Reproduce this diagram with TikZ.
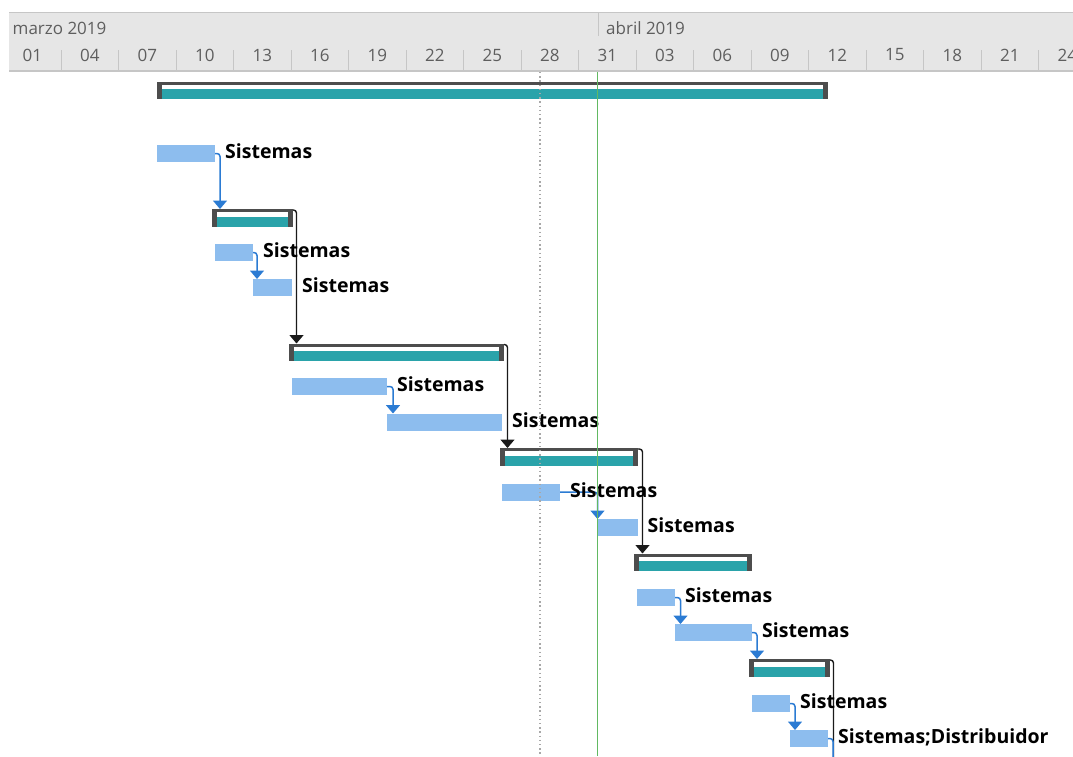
\documentclass[tikz,border=0pt]{standalone}
\usepackage{fontspec}
\setmainfont{Open Sans}
\usetikzlibrary{arrows.meta,calc}

\definecolor{hdrbg}{HTML}{E6E6E6}
\definecolor{hdrline}{HTML}{C6C6C6}
\definecolor{hdrtext}{HTML}{5E5E5E}
\definecolor{tealbar}{HTML}{2AA3AA}
\definecolor{sumgray}{HTML}{4D4D4D}
\definecolor{taskblue}{HTML}{8DBDEE}
\definecolor{linkblue}{HTML}{2B7BD3}
\definecolor{linkblack}{HTML}{1A1A1A}
\definecolor{todaygreen}{HTML}{62B962}
\definecolor{dotgray}{HTML}{A8A8A8}

\tikzset{
  hdrlabel/.style={inner sep=0, text=hdrtext, font=\fontsize{17}{20}\selectfont},
  tickline/.style={hdrline, line width=1pt},
  task/.style={rectangle, inner sep=0, outer sep=0, anchor=north west,
    minimum height=17pt, fill=taskblue},
  sumbar/.style={rectangle, inner sep=0, outer sep=0, anchor=north west,
    minimum height=17.5pt, fill=white,
    path picture={
      \fill[tealbar] (path picture bounding box.south west)
        rectangle ([yshift=10pt]path picture bounding box.south east);
      \fill[sumgray] ([yshift=-3pt]path picture bounding box.north west)
        rectangle (path picture bounding box.north east);
      \fill[sumgray] (path picture bounding box.south west)
        rectangle ([xshift=5pt]path picture bounding box.north west);
      \fill[sumgray] ([xshift=-5pt]path picture bounding box.south east)
        rectangle (path picture bounding box.north east);
    }},
  tasklabel/.style={inner sep=0, anchor=base west,
    font=\fontsize{19.5}{23}\selectfont\bfseries},
  blink/.style={linkblue, line width=1.5pt, rounded corners=3pt,
    -{Triangle[width=14pt,length=8.5pt]}},
  klink/.style={linkblack, line width=1.4pt, rounded corners=3pt,
    -{Triangle[width=14pt,length=8.5pt]}},
  plainblue/.style={linkblue, line width=1.5pt, rounded corners=3pt},
  plainblack/.style={linkblack, line width=1.4pt, rounded corners=3pt},
}

\begin{document}
\begin{tikzpicture}[x=1pt,y=-1pt]
\useasboundingbox (0,0) rectangle (1073,756);
\fill[white] (0,0) rectangle (1073,756);

% timescale header
\fill[hdrbg] (9,12) rectangle (1073,71);
\draw[hdrline, line width=1.3pt] (9,12.5) -- (1073,12.5);
\draw[hdrline, line width=1.3pt] (9,71) -- (1073,71);
\draw[tickline] (598,13) -- (598,36);
\foreach \k in {0,...,17}
  \draw[tickline] (61+57.5*\k,50) -- (61+57.5*\k,71);
\node[hdrlabel, anchor=west] (marzo) at (12.5,28) {marzo 2019};
\node[hdrlabel, anchor=west] (abril) at (606,28) {abril 2019};
\foreach \d [count=\i from 0] in {01,04,07,10,13,16,19,22,25,28,31,03,06,09,12,15,18,21,24}
  \node[hdrlabel] (day\i) at (32.25+57.5*\i,55) {\d};

% summary bars
\node[sumbar, minimum width=671pt] (s0) at (157,81.5) {};
\node[sumbar, minimum width=81pt]  (s1) at (212,209) {};
\node[sumbar, minimum width=215pt] (s2) at (289,343.5) {};
\node[sumbar, minimum width=138pt] (s3) at (500,448) {};
\node[sumbar, minimum width=118pt] (s4) at (634,553.5) {};
\node[sumbar, minimum width=81pt]  (s5) at (749,659) {};

% task bars
\node[task, minimum width=58pt]  (t1)  at (157,145) {};
\node[task, minimum width=38pt]  (t2)  at (215,244) {};
\node[task, minimum width=39pt]  (t3)  at (253,279) {};
\node[task, minimum width=95pt]  (t4)  at (292,378) {};
\node[task, minimum width=115pt] (t5)  at (387,413.5) {};
\node[task, minimum width=58pt]  (t6)  at (502,483.5) {};
\node[task, minimum width=40pt]  (t7)  at (597.5,519) {};
\node[task, minimum width=38pt]  (t8)  at (637,589) {};
\node[task, minimum width=77pt]  (t9)  at (675,624) {};
\node[task, minimum width=38pt]  (t10) at (752,695) {};
\node[task, minimum width=38pt]  (t11) at (790,730) {};

\coordinate (bottom) at (0,760);

% summary-to-summary links
\draw[klink] ([yshift=-1pt]s1.north east) -- ++(3.5,0) coordinate (k1) -- (k1 |- s2.north);
\draw[klink] ([yshift=-1pt]s2.north east) -- ++(3.5,0) coordinate (k2) -- (k2 |- s3.north);
\draw[klink] ([yshift=-1pt]s3.north east) -- ++(4.5,0) coordinate (k3) -- (k3 |- s4.north);
\draw[plainblack] ([yshift=-1pt]s5.north east) -- ++(3.5,0) coordinate (k5) -- (k5 |- bottom);

% task links
\draw[blink] (t1.east) -- ++(5,0) coordinate (j1) -- (j1 |- s1.north);
\draw[blink] (t2.east) -- ++(4,0) coordinate (j2) -- (j2 |- t3.north);
\draw[blink] (t4.east) -- ++(6,0) coordinate (j4) -- (j4 |- t5.north);
\draw[blink] (t6.east) -| (t7.north west);
\draw[blink] (t8.east) -- ++(5.5,0) coordinate (j8) -- (j8 |- t9.north);
\draw[blink] (t9.east) -- ++(5,0) coordinate (j9) -- (j9 |- s5.north);
\draw[blink] (t10.east) -- ++(5,0) coordinate (j10) -- (j10 |- t11.north);
\draw[plainblue] (t11.east) -- ++(5,0) coordinate (j11) -- (j11 |- bottom);

% resource labels
\node[tasklabel] (l1)  at ($(t1.east)+(10,5)$)  {Sistemas};
\node[tasklabel] (l2)  at ($(t2.east)+(10,5)$)  {Sistemas};
\node[tasklabel] (l3)  at ($(t3.east)+(10,5)$)  {Sistemas};
\node[tasklabel] (l4)  at ($(t4.east)+(10,5)$)  {Sistemas};
\node[tasklabel] (l5)  at ($(t5.east)+(10,5)$)  {Sistemas};
\node[tasklabel] (l6)  at ($(t6.east)+(10,5)$)  {Sistemas};
\node[tasklabel] (l7)  at ($(t7.east)+(10,5)$)  {Sistemas};
\node[tasklabel] (l8)  at ($(t8.east)+(10,5)$)  {Sistemas};
\node[tasklabel] (l9)  at ($(t9.east)+(10,5)$)  {Sistemas};
\node[tasklabel] (l10) at ($(t10.east)+(10,5)$) {Sistemas};
\node[tasklabel] (l11) at ($(t11.east)+(10,5)$) {Sistemas;Distribuidor};

% status date and current date lines
\draw[dotgray, line width=1.4pt, dash pattern=on 1.4pt off 2.8pt] (540,72) -- (540,756);
\draw[todaygreen, line width=1.6pt] (597.5,72) -- (597.5,756);
\end{tikzpicture}
\end{document}
